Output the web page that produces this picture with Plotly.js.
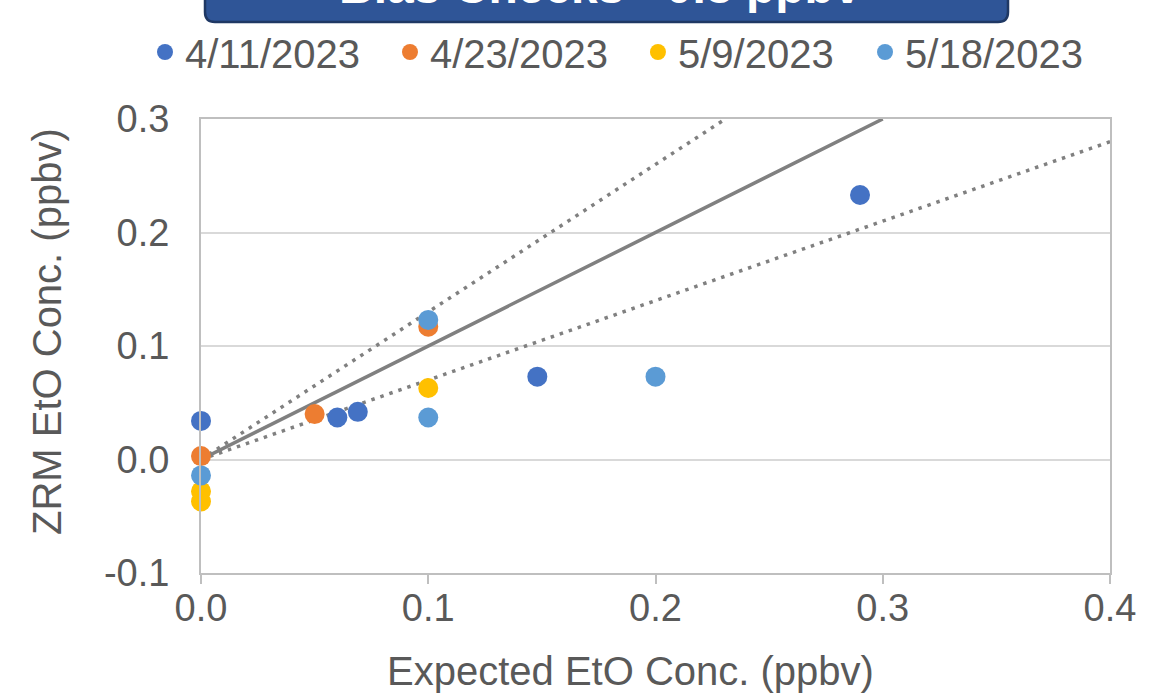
<!DOCTYPE html>
<html>
<head>
<meta charset="utf-8">
<script src="https://cdn.plot.ly/plotly-3.0.1.min.js"></script>
<style>
  html, body { margin: 0; padding: 0; background: #ffffff; }
  #chart { width: 1158px; height: 696px; }
</style>
</head>
<body>
<div id="chart"></div>
<script>
// ---- Data ----
const seriesNames = ["4/11/2023", "4/23/2023", "5/9/2023", "5/18/2023"];
const seriesColors = ["#4472C4", "#ED7D31", "#FFC000", "#5B9BD5"];

const x_0411 = [0, 0.060, 0.069, 0.148, 0.290];
const y_0411 = [0.034, 0.037, 0.042, 0.073, 0.233];

const x_0423 = [0, 0.050, 0.100];
const y_0423 = [0.003, 0.040, 0.117];

const x_0509 = [0, 0, 0.100];
const y_0509 = [-0.028, -0.037, 0.063];

const x_0518 = [0, 0.100, 0.100, 0.200];
const y_0518 = [-0.014, 0.123, 0.037, 0.073];

// Reference lines: 1:1 line and ±30% bounds
const refSlopes = [1.0, 1.3, 0.7];
const refDash = ["solid", "3.5px,6px", "3.5px,6px"];
const xMax = 0.4, yMax = 0.3, yMin = -0.1;

const xTickVals = [0, 0.1, 0.2, 0.3, 0.4];
const xTickText = ["0.0", "0.1", "0.2", "0.3", "0.4"];
const yTickVals = [-0.1, 0, 0.1, 0.2, 0.3];
const yTickText = ["-0.1", "0.0", "0.1", "0.2", "0.3"];

const titleText = "Bias Checks &lt;0.3 ppbv";
const xTitle = "Expected EtO Conc. (ppbv)";
const yTitle = "ZRM EtO Conc. (ppbv)";

// legend entry positions (paper x), one legend per series
const legendX = [-0.0616, 0.2079, 0.4807, 0.7305];

// ---- Traces ----
const traces = [];
refSlopes.forEach((s, i) => {
  const xEnd = Math.min(xMax, yMax / s);
  traces.push({
    x: [0, xEnd], y: [0, s * xEnd],
    mode: "lines", type: "scatter", showlegend: false, hoverinfo: "skip",
    line: { color: "#808080", width: 3.5, dash: refDash[i] }
  });
});

const xs = [x_0411, x_0423, x_0509, x_0518];
const ys = [y_0411, y_0423, y_0509, y_0518];
const legendIds = ["legend", "legend2", "legend3", "legend4"];
seriesNames.forEach((name, i) => {
  traces.push({
    x: xs[i], y: ys[i], name: name, legend: legendIds[i],
    mode: "markers", type: "scatter", cliponaxis: false,
    marker: { color: seriesColors[i], size: 20, line: { width: 0 } }
  });
});

const font = "Liberation Sans, Arial, sans-serif";
const gray = "#595959";

const layout = {
  width: 1158, height: 696,
  margin: { l: 201, r: 48, t: 119, b: 123 },
  paper_bgcolor: "#ffffff", plot_bgcolor: "#ffffff",
  font: { family: font, color: gray, size: 38 },
  showlegend: true,
  xaxis: {
    range: [0, xMax], tickmode: "array", tickvals: xTickVals, ticktext: xTickText,
    showgrid: false, zeroline: false,
    showline: true, linecolor: "#bfbfbf", linewidth: 2, mirror: true,
    ticks: "", ticklabelstandoff: 0,
    tickfont: { family: font, size: 38, color: gray }
  },
  // overlay axis carrying only the outside tick marks
  xaxis2: {
    overlaying: "x", matches: "x", anchor: "y", side: "bottom",
    range: [0, xMax], tickmode: "array", tickvals: xTickVals,
    showticklabels: false, showgrid: false, zeroline: false, showline: false,
    ticks: "outside", ticklen: 10, tickwidth: 2, tickcolor: "#bfbfbf"
  },
  yaxis: {
    range: [yMin, yMax], tickmode: "array", tickvals: yTickVals, ticktext: yTickText,
    showgrid: true, gridcolor: "#d9d9d9", gridwidth: 2,
    zeroline: false,
    showline: true, linecolor: "#bfbfbf", linewidth: 2, mirror: true,
    ticks: "", ticklabelstandoff: 22,
    tickfont: { family: font, size: 38, color: gray }
  },
  shapes: [],
  annotations: [
    {
      text: "<b>" + titleText + "</b>", xref: "paper", yref: "paper",
      x: 0.439, y: 1.292, xanchor: "center", yanchor: "middle", showarrow: false,
      font: { family: font, size: 48, color: "#ffffff" }
    },
    {
      text: xTitle, xref: "paper", yref: "paper",
      x: 0.473, y: -0.216, xanchor: "center", yanchor: "middle", showarrow: false,
      font: { family: font, size: 40, color: gray }
    },
    {
      text: yTitle, xref: "paper", yref: "paper", textangle: -90,
      x: -0.1694, y: 0.5308, xanchor: "center", yanchor: "middle", showarrow: false,
      font: { family: font, size: 40, color: gray }
    }
  ]
};

legendIds.forEach((id, i) => {
  layout[id] = {
    orientation: "h", x: legendX[i], xanchor: "left", y: 1.1476, yanchor: "middle",
    font: { family: font, size: 40, color: gray },
    bgcolor: "rgba(0,0,0,0)", itemsizing: "trace"
  };
});

// invisible trace so the tick-mark axis is drawn
traces.push({ x: [0], y: [0], xaxis: "x2", yaxis: "y", mode: "markers",
  marker: { opacity: 0 }, showlegend: false, hoverinfo: "skip" });

// Rounded title box (paper coordinates)
const bx0 = 0.0044, bx1 = 0.8878, by0 = 1.2137, by1 = 1.34;
const rdx = 0.011, rdy = 0.022;
layout.shapes.push({
  type: "path", xref: "paper", yref: "paper", layer: "below",
  path: `M ${bx0},${by1} L ${bx0},${by0 + rdy} Q ${bx0},${by0} ${bx0 + rdx},${by0} ` +
        `L ${bx1 - rdx},${by0} Q ${bx1},${by0} ${bx1},${by0 + rdy} L ${bx1},${by1} Z`,
  fillcolor: "#2F5597", line: { color: "#1F3864", width: 2.5 }
});

Plotly.newPlot("chart", traces, layout, { displayModeBar: false, staticPlot: true });
</script>
</body>
</html>
